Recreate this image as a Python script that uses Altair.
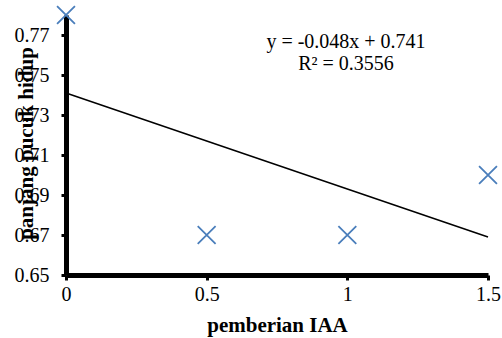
import altair as alt
import pandas as pd

x_vals = [0, 0.5, 1, 1.5]
y_vals = [0.78, 0.67, 0.67, 0.70]
y_ticks = [0.65, 0.67, 0.69, 0.71, 0.73, 0.75, 0.77]
x_ticks = [0, 0.5, 1, 1.5]
eq_lines = ["y = -0.048x + 0.741", "R² = 0.3556"]

df = pd.DataFrame({"x": x_vals, "y": y_vals})

FONT = "Liberation Serif"

xs = alt.Scale(domain=[0, 1.5], nice=False, zero=False)
ys = alt.Scale(domain=[0.65, 0.78], nice=False, zero=False)

x_axis = alt.Axis(values=x_ticks, title="pemberian IAA", format="~g",
                  titleY=56, titleBaseline="alphabetic", labelPadding=4,
                  labelFont=FONT, labelFontSize=20, titleFont=FONT, titleFontSize=21,
                  titleFontWeight="bold", labelFlush=False)
y_axis = alt.Axis(values=y_ticks, title="panjang pucuk hidup", format=".2f",
                  titleX=-40, titleY=128, titleAngle=-90, titleBaseline="middle",
                  titleAlign="center", labelPadding=12,
                  labelFont=FONT, labelFontSize=20, titleFont=FONT, titleFontSize=21,
                  titleFontWeight="bold", labelFlush=False)

base = alt.Chart(df)

xshape = "M-1,-1L1,1M1,-1L-1,1"

trend = base.transform_regression("x", "y", extent=[0, 1.5]).mark_line(
    color="black", strokeWidth=1.5).encode(
    x=alt.X("x:Q", scale=xs, axis=x_axis), y=alt.Y("y:Q", scale=ys, axis=y_axis))

pts = base.mark_point(shape=xshape, size=320, color="#4a7ebb",
                      strokeWidth=1.8, filled=False, clip=False, opacity=1).encode(
    x=alt.X("x:Q", scale=xs, axis=x_axis),
    y=alt.Y("y:Q", scale=ys, axis=y_axis),
)

eq = alt.Chart(pd.DataFrame({"a": [0]})).mark_text(
    text=eq_lines, font=FONT, fontSize=20, color="black", align="center",
    baseline="alphabetic", lineHeight=22).encode(
    x=alt.value(280), y=alt.value(33))

chart = (trend + pts + eq).properties(
    width=422, height=260,
    autosize=alt.AutoSizeParams(type="none"),
    padding={"left": 66, "top": 15, "right": 14, "bottom": 63},
).configure_view(stroke=None).configure_axis(
    grid=False, domainColor="black", domainWidth=5, tickColor="black", tickWidth=3,
    tickSize=5, labelColor="black", titleColor="black",
)

chart.save("out.html", embed_options={"renderer": "svg", "actions": False})
